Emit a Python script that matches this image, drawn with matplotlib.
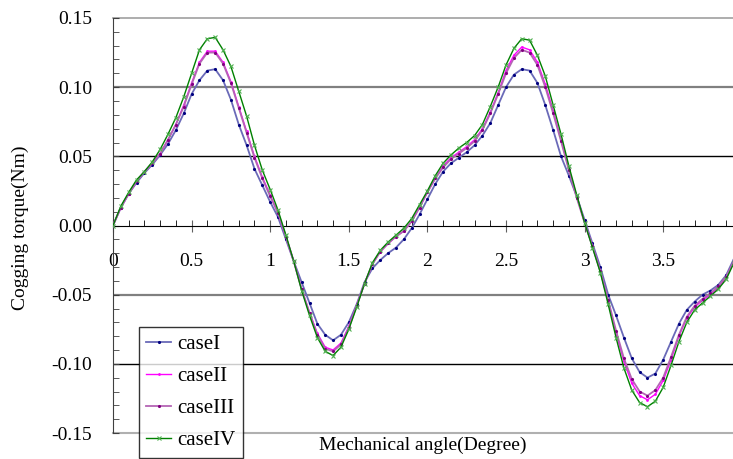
import numpy as np
import matplotlib
matplotlib.use("Agg")
import matplotlib.pyplot as plt
from matplotlib.ticker import MultipleLocator, FormatStrFormatter

plt.rcParams["font.family"] = ["Liberation Serif", "DejaVu Serif"]
plt.rcParams["axes.unicode_minus"] = False

# mechanical angle (degree), sampled every 0.05
angle = np.round(np.arange(80) * 0.05, 2)

case1 = [0.000, 0.013, 0.023, 0.031, 0.038, 0.044, 0.051, 0.059, 0.069, 0.081,
         0.095, 0.105, 0.112, 0.113, 0.105, 0.091, 0.073, 0.058, 0.041, 0.029,
         0.017, 0.006, -0.010, -0.026, -0.041, -0.056, -0.071, -0.079, -0.083, -0.079,
         -0.070, -0.057, -0.041, -0.031, -0.025, -0.020, -0.016, -0.010, -0.002, 0.008,
         0.019, 0.030, 0.039, 0.045, 0.049, 0.053, 0.058, 0.065, 0.074, 0.087,
         0.100, 0.109, 0.113, 0.112, 0.103, 0.087, 0.069, 0.050, 0.036, 0.021,
         0.004, -0.013, -0.030, -0.050, -0.065, -0.081, -0.096, -0.106, -0.110, -0.107,
         -0.097, -0.084, -0.071, -0.061, -0.055, -0.050, -0.047, -0.043, -0.036, -0.024]

case2 = [0.000, 0.013, 0.023, 0.032, 0.039, 0.045, 0.052, 0.062, 0.073, 0.087,
         0.103, 0.118, 0.126, 0.126, 0.118, 0.104, 0.086, 0.068, 0.050, 0.035,
         0.022, 0.009, -0.008, -0.026, -0.046, -0.063, -0.078, -0.088, -0.090, -0.085,
         -0.073, -0.058, -0.042, -0.028, -0.019, -0.013, -0.008, -0.004, 0.003, 0.013,
         0.024, 0.034, 0.043, 0.049, 0.053, 0.057, 0.062, 0.070, 0.082, 0.096,
         0.112, 0.123, 0.129, 0.127, 0.118, 0.102, 0.083, 0.062, 0.041, 0.021,
         0.002, -0.015, -0.033, -0.055, -0.078, -0.098, -0.114, -0.123, -0.126, -0.122,
         -0.112, -0.097, -0.080, -0.067, -0.059, -0.054, -0.050, -0.045, -0.038, -0.026]

case3 = [0.000, 0.013, 0.023, 0.032, 0.039, 0.045, 0.052, 0.062, 0.073, 0.086,
         0.102, 0.117, 0.125, 0.125, 0.117, 0.103, 0.085, 0.067, 0.049, 0.034,
         0.021, 0.009, -0.008, -0.026, -0.046, -0.063, -0.079, -0.089, -0.091, -0.086,
         -0.074, -0.058, -0.042, -0.028, -0.019, -0.013, -0.008, -0.004, 0.003, 0.013,
         0.024, 0.034, 0.042, 0.048, 0.052, 0.056, 0.061, 0.069, 0.081, 0.095,
         0.110, 0.121, 0.127, 0.125, 0.116, 0.100, 0.081, 0.061, 0.040, 0.020,
         0.002, -0.015, -0.033, -0.054, -0.076, -0.096, -0.111, -0.120, -0.123, -0.119,
         -0.110, -0.095, -0.079, -0.066, -0.058, -0.053, -0.049, -0.044, -0.037, -0.026]

case4 = [0.000, 0.014, 0.024, 0.033, 0.039, 0.046, 0.055, 0.066, 0.078, 0.093,
         0.110, 0.127, 0.135, 0.136, 0.127, 0.115, 0.097, 0.079, 0.058, 0.040,
         0.026, 0.011, -0.007, -0.026, -0.047, -0.065, -0.081, -0.091, -0.094, -0.088,
         -0.075, -0.059, -0.042, -0.027, -0.018, -0.012, -0.007, -0.002, 0.005, 0.015,
         0.025, 0.036, 0.045, 0.051, 0.056, 0.060, 0.065, 0.073, 0.086, 0.100,
         0.116, 0.128, 0.135, 0.134, 0.123, 0.108, 0.087, 0.066, 0.043, 0.022,
         0.002, -0.016, -0.034, -0.057, -0.081, -0.103, -0.119, -0.128, -0.131, -0.127,
         -0.117, -0.101, -0.084, -0.070, -0.061, -0.056, -0.051, -0.046, -0.039, -0.027]

labels = ["caseI", "caseII", "caseIII", "caseIV"]

fig = plt.figure(figsize=(7.33, 4.59), dpi=100)
ax = fig.add_axes([113/733, 26/459, 620/733, 415/459])

# grid lines
ax.axhline(0.15, color="#a0a0a0", lw=1.2, zorder=1, clip_on=False)
ax.axhline(0.10, color="#808080", lw=1.6, zorder=1)
ax.axhline(0.05, color="black", lw=1.0, zorder=1)
ax.axhline(-0.05, color="#808080", lw=1.6, zorder=1)
ax.axhline(-0.10, color="black", lw=1.0, zorder=1)
ax.axhline(-0.15, color="#b0b0b0", lw=1.5, zorder=1, clip_on=False)

ax.plot(angle, case1, color="#6a6ab8", lw=1.3, marker=".", ms=2.5,
        mfc="#000080", mec="#000080", label=labels[0], zorder=3)
ax.plot(angle, case2, color="#ff00ff", lw=1.0, marker=".", ms=2,
        mfc="#ff00ff", mec="#ff00ff", label=labels[1], zorder=3)
ax.plot(angle, case3, color="#b464b4", lw=1.3, marker=".", ms=2.5,
        mfc="#800080", mec="#800080", label=labels[2], zorder=3)
ax.plot(angle, case4, color="#008000", lw=1.0, marker="x", ms=3.5,
        mec="#50b050", mew=0.8, label=labels[3], zorder=4)

ax.set_xlim(0, 3.944)
ax.set_ylim(-0.15, 0.15)

ax.spines["right"].set_visible(False)
ax.spines["top"].set_visible(False)
ax.spines["left"].set_color("#404040")
ax.spines["bottom"].set_position(("data", 0))
ax.spines["bottom"].set_color("black")

ax.xaxis.set_major_locator(MultipleLocator(0.5))
ax.xaxis.set_minor_locator(MultipleLocator(0.1))
ax.xaxis.set_major_formatter(FormatStrFormatter("%g"))
ax.yaxis.set_major_locator(MultipleLocator(0.05))
ax.yaxis.set_minor_locator(MultipleLocator(0.01))
ax.yaxis.set_major_formatter(FormatStrFormatter("%.2f"))

ax.tick_params(axis="x", which="major", direction="inout", length=9,
               color="#606060", pad=15, labelsize=14)
ax.tick_params(axis="x", which="minor", direction="in", length=4, color="black")
ax.tick_params(axis="y", which="major", direction="in", length=4,
               pad=15, labelsize=14, color="#404040")
ax.tick_params(axis="y", which="minor", direction="in", length=4, color="#404040")

fig.text(423/733, 1 - 445/459, "Mechanical angle(Degree)", ha="center",
         va="center", fontsize=14)
fig.text(20/733, 1 - 228/459, "Cogging torque(Nm)", ha="center",
         va="center", rotation=90, fontsize=14)

leg = ax.legend(loc="upper left", bbox_to_anchor=(0.042, 0.255), fontsize=15,
                frameon=True, fancybox=False, edgecolor="black",
                handlelength=1.2, labelspacing=0.6, borderpad=0.35,
                handletextpad=0.3, borderaxespad=0)
leg.get_frame().set_linewidth(1.0)
leg.set_zorder(5)

fig.savefig("out.png", dpi=100)
